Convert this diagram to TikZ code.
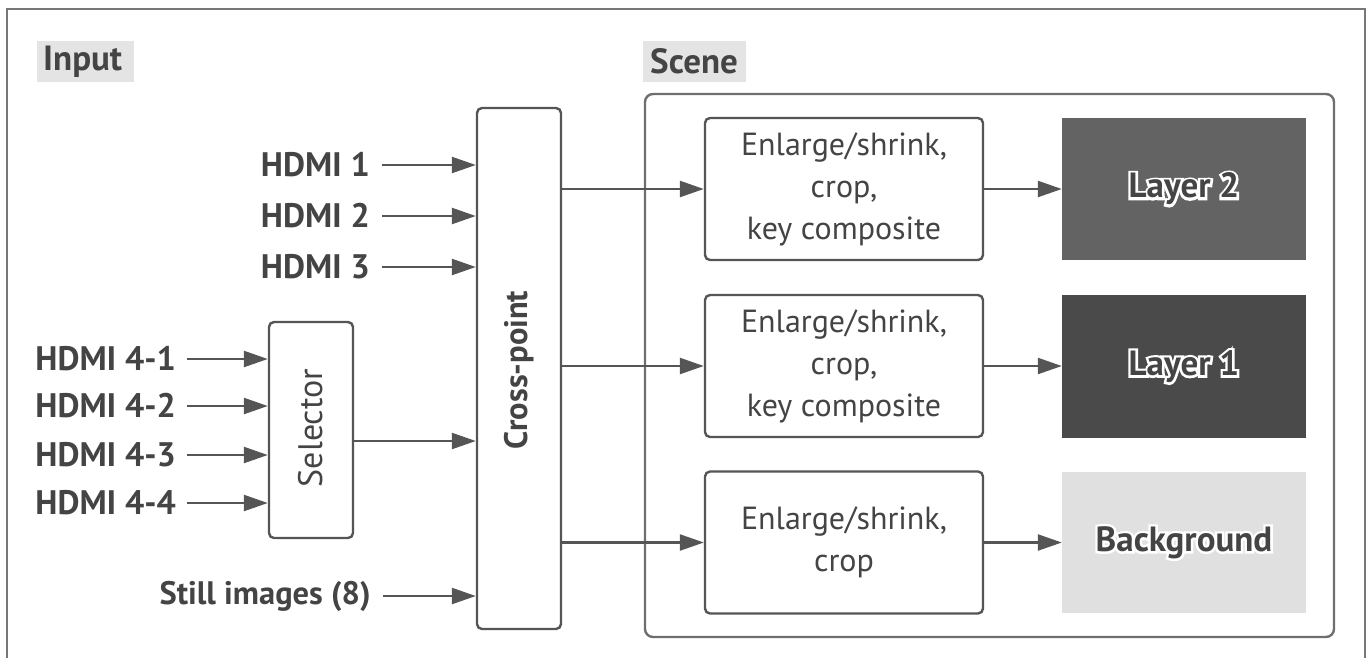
\documentclass[tikz,border=0pt]{standalone}
\usepackage{fontspec}
\setmainfont{PT Sans}
\newfontfamily\halofont{PT Sans Bold}[FakeBold=14]
\usetikzlibrary{arrows.meta}
\definecolor{ln}{HTML}{555555}
\definecolor{tx}{HTML}{444444}
\definecolor{lab}{HTML}{E4E4E4}
\definecolor{layertwo}{HTML}{636363}
\definecolor{layerone}{HTML}{4A4A4A}
\definecolor{bgl}{HTML}{E0E0E0}
\tikzset{
  arr/.style={draw=ln, line width=2.4pt, -{Triangle[length=24pt,width=16pt]}},
  box/.style={draw=ln, line width=2.4pt, rounded corners=5pt, fill=white, inner sep=0pt, text=tx},
  inlab/.style={font=\fontsize{34}{40}\selectfont\bfseries, text=tx, inner sep=0pt, anchor=east},
  ttl/.style={font=\fontsize{35}{40}\selectfont\bfseries, text=tx, fill=lab, inner sep=0pt, anchor=west},
  proc/.style={box, minimum width=278pt, minimum height=142pt, font=\fontsize{32}{42}\selectfont, align=center},
  layer/.style={inner sep=0pt, minimum width=244pt, minimum height=142pt},
  halo/.style={font=\fontsize{35}{40}\halofont, text=white, inner sep=0pt},
  layertxt/.style={font=\fontsize{35}{40}\selectfont\bfseries, text=tx, inner sep=0pt},
}
\begin{document}
\begin{tikzpicture}[x=1pt,y=-1pt]
\useasboundingbox (0,0) rectangle (1370,657);
\begin{scope}
\clip (0,0) rectangle (1370,657);
\draw[draw=ln!80, line width=2pt] (7,9) rectangle (1365,680);
\end{scope}
% titles
\node[ttl, minimum width=97pt, minimum height=41pt, text width=97pt, align=left] (tin) at (37,61.5) {\hspace*{6pt}Input};
\node[ttl, minimum width=103pt, minimum height=41pt, text width=103pt, align=left] (tsc) at (643,61.5) {\hspace*{7pt}Scene};
% scene container
\node[draw=ln!85, line width=2.4pt, rounded corners=8pt, minimum width=689pt, minimum height=543pt, inner sep=0pt] (scene) at (989.5,365.5) {};
% main boxes
\node[box, minimum width=84pt, minimum height=521pt] (cross) at (519,368.5) {};
\node[rotate=90, font=\fontsize{32.5}{38}\selectfont\bfseries, text=tx] (crosst) at (519,370) {Cross-point};
\node[box, minimum width=84pt, minimum height=216pt] (sel) at (311,430) {};
\node[rotate=90, font=\fontsize{34}{38}\selectfont, text=ln!80!black] (selt) at (311,428) {Selector};
% processing boxes
\node[proc] (p1) at (844,189) {Enlarge/shrink,\\crop,\\key composite};
\node[proc] (p2) at (844,366) {Enlarge/shrink,\\crop,\\key composite};
\node[proc] (p3) at (844,542.5) {Enlarge/shrink,\\crop};
% layers
\node[layer, fill=layertwo] (l2) at (1184,189) {};
\node[layer, fill=layerone, minimum height=143pt] (l1) at (1184,366.5) {};
\node[layer, fill=bgl, minimum height=141pt] (lb) at (1184,542.5) {};
\node[halo] (l2h) at (l2) {Layer 2};
\node[layertxt] (l2t) at (l2) {Layer 2};
\node[halo] (l1h) at (l1) {Layer 1};
\node[layertxt] (l1t) at (l1) {Layer 1};
\node[halo] (lbh) at (lb) {Background};
\node[layertxt] (lbt) at (lb) {Background};
% input labels
\node[inlab] (h1) at (370,165) {HDMI 1};
\node[inlab] (h2) at (370,216) {HDMI 2};
\node[inlab] (h3) at (370,267) {HDMI 3};
\node[inlab] (h41) at (176,359) {HDMI 4-1};
\node[inlab] (h42) at (176,406) {HDMI 4-2};
\node[inlab] (h43) at (176,455) {HDMI 4-3};
\node[inlab] (h44) at (176,503) {HDMI 4-4};
\node[inlab, font=\fontsize{32.5}{40}\selectfont\bfseries] (st) at (371,596) {Still images (8)};
% arrows into cross-point
\foreach \n in {h1,h2,h3,st} \draw[arr, shorten <=12pt] (\n.east) -- (\n.east -| cross.west);
\foreach \n in {h41,h42,h43,h44} \draw[arr, shorten <=11pt] (\n.east) -- (\n.east -| sel.west);
\coordinate (selout) at (353,441);
\draw[arr] (selout) -- (selout -| cross.west);
% cross-point to processing
\foreach \n in {p1,p2,p3} \draw[arr] (cross.east |- \n) -- (\n.west);
\draw[arr] (p1.east) -- (l2.west);
\draw[arr] (p2.east) -- (l1.west |- p2.east);
\draw[arr] (p3.east) -- (lb.west |- p3.east);
\end{tikzpicture}
\end{document}
